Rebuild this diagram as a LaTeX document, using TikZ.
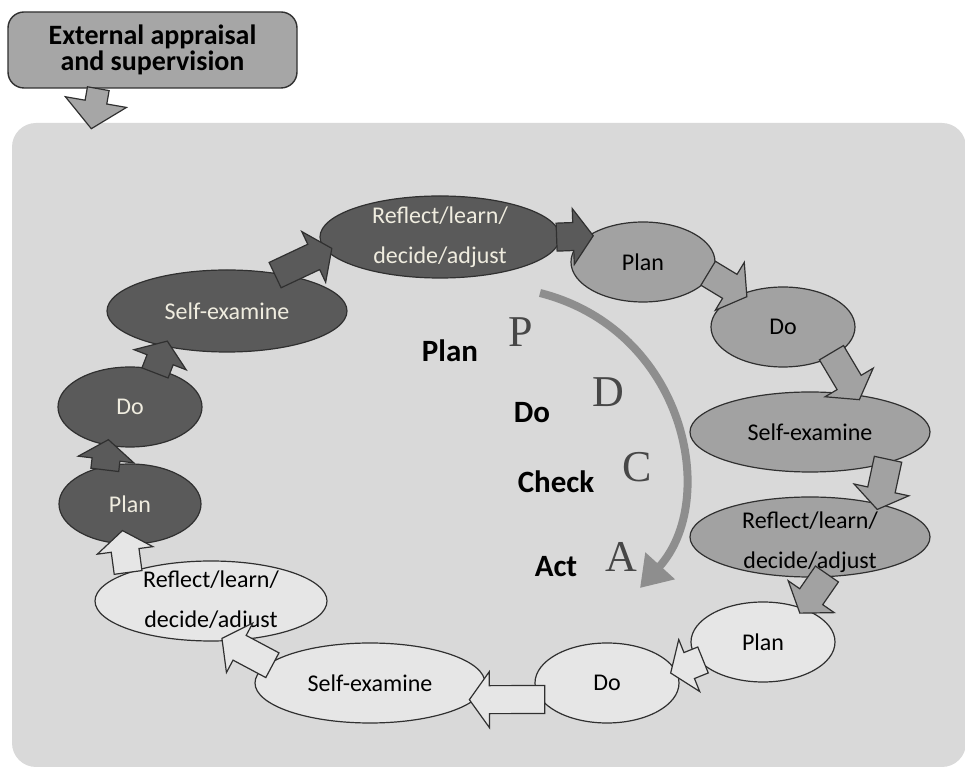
\documentclass[tikz,border=0pt]{standalone}
\usepackage{fontspec}
\setmainfont{Carlito}
\newfontfamily\serifletters{Liberation Serif}
\usetikzlibrary{shapes.geometric,calc,arrows.meta}

\definecolor{panelgray}{HTML}{D9D9D9}
\definecolor{boxgray}{HTML}{A6A6A6}
\definecolor{darkfill}{HTML}{5A5A5A}
\definecolor{midfill}{HTML}{A2A2A2}
\definecolor{lightfill}{HTML}{E6E6E6}
\definecolor{linegray}{HTML}{303030}
\definecolor{cream}{HTML}{EFECDF}
\definecolor{cyclegray}{HTML}{8E8E8E}
\definecolor{lettergray}{HTML}{474747}

\def\fastart{2pt}\def\fapoke{3pt}\def\fashaft{7pt}\def\fahead{14pt}\def\falen{10pt}
\newcommand{\fatarrow}[3]{%
 \path ($#2!-\fastart!#3$) coordinate (fa-s) ($#3!-\fapoke!#2$) coordinate (fa-t);
 \path ($(fa-t)!\falen!(fa-s)$) coordinate (fa-b);
 \draw[blockarrow,fill=#1] ($(fa-s)!\fashaft!90:(fa-t)$) -- ($(fa-b)!\fashaft!90:(fa-t)$)
  -- ($(fa-b)!\fahead!90:(fa-t)$) -- (fa-t) -- ($(fa-b)!\fahead!-90:(fa-t)$)
  -- ($(fa-b)!\fashaft!-90:(fa-t)$) -- ($(fa-s)!\fashaft!-90:(fa-t)$) -- cycle;}

\begin{document}
\begin{tikzpicture}[x=0.5pt,y=-0.5pt,
 stage/.style={ellipse,draw=linegray,line width=0.6pt,inner sep=0pt,minimum height=40pt,font=\fontsize{12}{20}\selectfont},
 darkstage/.style={stage,fill=darkfill,text=cream},
 midstage/.style={stage,fill=midfill},
 lightstage/.style={stage,fill=lightfill},
 reflecttext/.style={align=center,inner sep=0pt,font=\fontsize{12}{20}\selectfont},
 titlebox/.style={draw=linegray,line width=0.7pt,fill=boxgray,rounded corners=8pt,minimum width=144.5pt,minimum height=38pt,align=center,font=\bfseries\fontsize{14}{12}\selectfont},
 blockarrow/.style={draw=linegray,line width=0.6pt,line join=miter},
 cyclearrow/.style={draw=cyclegray,line width=4pt,-{Triangle[length=15pt,width=19pt]}},
 pdca/.style={anchor=base,font=\bfseries\fontsize{15.5}{16}\selectfont},
 letter/.style={anchor=base,text=lettergray,font=\serifletters\fontsize{22}{22}\selectfont}]
 \useasboundingbox (0,0) rectangle (965,769);
 \fill[panelgray,rounded corners=12pt] (12,123) rectangle (966,767);

 \node[titlebox] (ext) at (152.5,50) {External appraisal\\and supervision};
 \coordinate (extout) at ([xshift=45.5pt]ext.south west);
 \coordinate (extin) at ([xshift=42pt,yshift=-20pt]ext.south west);
 \begin{scope}
  \def\fastart{0pt}\def\fapoke{0pt}\def\fashaft{5.5pt}\def\fahead{15.5pt}\def\falen{13.5pt}
  \fatarrow{boxgray}{(extout)}{(extin)}
 \end{scope}

 \node[darkstage,minimum width=120pt,minimum height=41pt,label={[reflecttext,text=cream]center:Reflect/learn/\\decide/adjust}] (rlT) at (440,237) {};
 \node[midstage,minimum width=72pt] (plT) at (643,262) {Plan};
 \node[midstage,minimum width=72pt] (doR) at (783,327) {Do};
 \node[midstage,minimum width=120pt] (seR) at (810,432) {Self-examine};
 \node[midstage,minimum width=120pt,label={[reflecttext,yshift=-2.5pt]center:Reflect/learn/\\decide/adjust}] (rlR) at (810,537) {};
 \node[lightstage,minimum width=72pt] (plB) at (763,642) {Plan};
 \node[lightstage,minimum width=72pt] (doB) at (607,683) {Do};
 \node[lightstage,minimum width=115pt] (seB) at (370,683) {Self-examine};
 \node[lightstage,minimum width=116pt,label={[reflecttext]center:Reflect/learn/\\decide/adjust}] (rlL) at (211,601) {};
 \node[darkstage,minimum width=71pt] (plL) at (130,504) {Plan};
 \node[darkstage,minimum width=72pt] (doL) at (130,407) {Do};
 \node[darkstage,minimum width=120pt,minimum height=41pt] (seL) at (227,311) {Self-examine};

 \fatarrow{darkfill}{(seL.36)}{(rlT.187)}
 \fatarrow{darkfill}{(rlT.0)}{(plT.155)}
 \fatarrow{midfill}{(plT.-11)}{(doR.141)}
 \fatarrow{midfill}{(doR.-30)}{(seR.39)}
 \fatarrow{midfill}{(seR.-22)}{(rlR.26)}
 \fatarrow{midfill}{(rlR.-70)}{(plB.40)}
 \fatarrow{lightfill}{(plB.197)}{(doB.10)}
 \fatarrow{lightfill}{(doB.194)}{(seB.-9)}
 \fatarrow{lightfill}{(seB.169)}{(rlL.-68)}
 \begin{scope}
  \def\fastart{0pt}\def\fapoke{7pt}
  \fatarrow{lightfill}{(rlL.161)}{(plL.262)}
 \end{scope}
 \fatarrow{darkfill}{(plL.123)}{(doL.240)}
 \fatarrow{darkfill}{(doL.55)}{(seL.210)}

 \coordinate (cyc-start) at (540,293);
 \coordinate (cyc-end) at (640,588);
 \draw[cyclearrow] (cyc-start) .. controls (685,330) and (720,500) .. (cyc-end);

 \node[pdca] (plan-word) at (450,362) {Plan};
 \node[pdca] (do-word) at (532,423) {Do};
 \node[pdca] (check-word) at (556,493) {Check};
 \node[pdca] (act-word) at (556,577) {Act};
 \node[letter] (p-letter) at (521,347) {P};
 \node[letter] (d-letter) at (608,407) {D};
 \node[letter] (c-letter) at (637,482) {C};
 \node[letter] (a-letter) at (621,572) {A};
\end{tikzpicture}
\end{document}
